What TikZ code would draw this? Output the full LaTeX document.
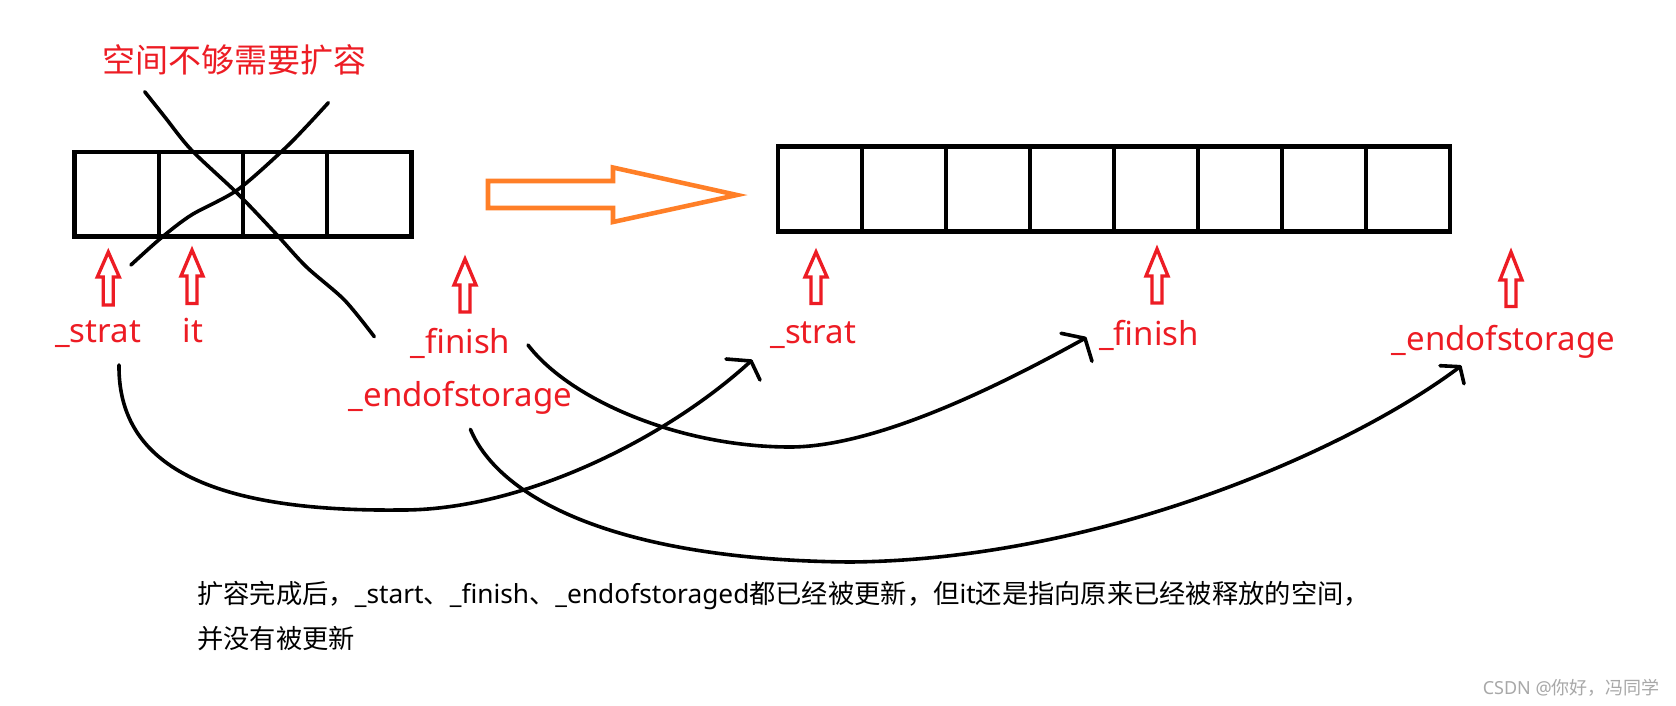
\documentclass[tikz,border=0pt]{standalone}
\usepackage{fontspec}
\setmainfont{Noto Sans}
\newfontfamily\cjk{Noto Sans CJK SC}
\definecolor{pred}{HTML}{ED1C24}
\definecolor{porange}{HTML}{FF7F27}
\definecolor{wmgray}{HTML}{A8A8A8}
\begin{document}
\begin{tikzpicture}[x=0.75pt,y=-0.75pt,
  cellold/.style={draw=black,line width=3.4pt,minimum width=63.15pt,minimum height=63.5pt,inner sep=0,outer sep=0},
  cellnew/.style={draw=black,line width=3.4pt,minimum width=63pt,minimum height=63.45pt,inner sep=0,outer sep=0},
  redlbl/.style={text=pred,font=\fontsize{24.75pt}{28pt}\selectfont,inner sep=0,anchor=base},
  uparr/.style={draw=pred,line width=2.5pt,line join=miter},
  ink/.style={draw=black,line width=2.7pt,line cap=round,line join=round},
  bigarr/.style={draw=porange,line width=3.4pt,line join=miter},
  note/.style={font=\fontsize{19.7pt}{24pt}\selectfont,inner sep=0,anchor=base west},
]
\useasboundingbox[fill=white] (0,0) rectangle (1676,706);

% title
\node[text=pred,font=\cjk\fontsize{24.75pt}{28pt}\selectfont,inner sep=0,anchor=base] (title) at (234,72.5) {空间不够需要扩容};

% old array
\foreach \i in {0,1,2,3}{
  \node[cellold] (o\i) at ({116.7+84.2*\i},194.35) {};
}
% new array
\foreach \i in {0,...,7}{
  \node[cellnew] (n\i) at ({819.9+83.98*\i},189) {};
}

% cross lines over the old array
\draw[ink] plot[smooth] coordinates {(144.7,91.7) (164.6,116.7) (191.4,150) (237.3,193.3) (275.5,233.3) (306.2,266.7) (344.4,300) (374.3,336.7)};
\draw[ink] plot[smooth] coordinates {(328.4,102.7) (306.2,126.7) (283.2,150) (237.3,190) (191.4,215) (160.7,238.3) (130.9,265)};

% orange big arrow
\draw[bigarr] (488,181) -- (613,181) -- (613,167.5) -- (737,195) -- (613,222) -- (613,208) -- (488,208) -- cycle;

% red hollow up arrows
\foreach \x/\t/\h/\b in {108.3/252/277/305, 192/250/276/303.5, 465/259/285/312, 816/252/277/303.5, 1157/249/276/303, 1511/252/280/306.5}{
  \draw[uparr] (\x,\t) -- ({\x+11},\h) -- ({\x+5},\h) -- ({\x+5},\b) -- ({\x-5},\b) -- ({\x-5},\h) -- ({\x-11},\h) -- cycle;
}

% red labels
\node[redlbl] (lstrat) at (98,342.7) {\_strat};
\node[redlbl] (lit) at (193,342.7) {it};
\node[redlbl] (lfinish) at (460.4,353) {\_finish};
\node[redlbl] (lend) at (460.5,406.7) {\_endofstorage};
\node[redlbl] (rstrat) at (813.4,343) {\_strat};
\node[redlbl] (rfinish) at (1149,345.7) {\_finish};
\node[redlbl] (rend) at (1503.4,350.7) {\_endofstorage};

% connector ends
\coordinate (c1s) at (119,365);
\coordinate (c1m) at (400,510);
\coordinate (c1t) at (751,361);
\coordinate (c2s) at (528,345);
\coordinate (c2m) at (790,447);
\coordinate (c2t) at (1085,338.3);
\coordinate (c3s) at (470.4,429.3);
\coordinate (c3m) at (850,562);
\coordinate (c3t) at (1460,366.7);

% hand-drawn connectors
\draw[ink] (c1s) .. controls (118,460) and (200,512) .. (c1m) .. controls (520,511) and (665,440) .. (c1t);
\draw[ink] (c1t) -- ++(-25,-2);
\draw[ink] (c1t) -- ++(9,19);

\draw[ink] (c2s) .. controls (570,400) and (680,447) .. (c2m) .. controls (880,447) and (1010,380) .. (c2t);
\draw[ink] (c2t) -- ++(-24,-5);
\draw[ink] (c2t) -- ++(7,23);

\draw[ink] (c3s) .. controls (500,500) and (620,560) .. (c3m) .. controls (1100,560) and (1350,450) .. (c3t);
\draw[ink] (c3t) -- ++(-20,-1);
\draw[ink] (c3t) -- ++(4,17);

% note
\node[note] (note1) at (197,603) {{\cjk 扩容完成后，}\_start{\cjk 、}\_finish{\cjk 、}\_endofstoraged{\cjk 都已经被更新，但}it{\cjk 还是指向原来已经被释放的空间，}};
\node[note] (note2) at (197,648) {\cjk 并没有被更新};

% watermark
\node[text=wmgray,font=\fontsize{13.5pt}{16pt}\selectfont,inner sep=0,anchor=base east] (wm) at (1660,694) {CSDN @{\cjk 你好，冯同学}};
\end{tikzpicture}
\end{document}
